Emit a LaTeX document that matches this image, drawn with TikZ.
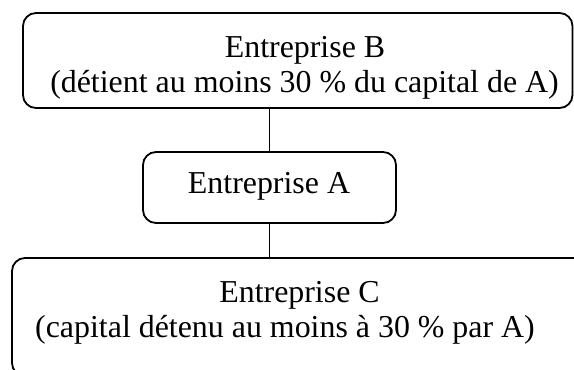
\documentclass[tikz,border=0pt]{standalone}
\usepackage{fontspec}
\setmainfont{Liberation Serif}
\begin{document}
\begin{tikzpicture}[x=1pt,y=-1pt,
  box/.style={draw=black, line width=1.8pt, rounded corners=13pt, rectangle, inner sep=0pt, outer sep=0pt},
  lbl/.style={anchor=base, inner sep=0pt, font=\fontsize{31.9}{36}\selectfont},
  link/.style={draw=black, line width=1.8pt}]
\useasboundingbox (0,0) rectangle (574,370);
\clip (0,0) rectangle (574,370);
\node[box, minimum width=549.5pt, minimum height=95pt] (B) at (297.75,60.5) {};
\node[box, minimum width=253pt, minimum height=71pt] (A) at (269.5,187.5) {};
\node[box, minimum width=588pt, minimum height=118pt] (C) at (306,317) {};
\node[lbl] (B1) at (305,57) {Entreprise B};
\node[lbl] (B2) at (304.5,92) {(détient au moins 30 \% du capital de A)};
\node[lbl] (A1) at (269,193) {Entreprise A};
\node[lbl] (C1) at (299.5,302) {Entreprise C};
\node[lbl] (C2) at (285,337) {(capital détenu au moins à 30 \% par A)};
\draw[link] (A.north) -- (A.north |- B.south);
\draw[link] (A.south) -- (A.south |- C.north);
\end{tikzpicture}
\end{document}
